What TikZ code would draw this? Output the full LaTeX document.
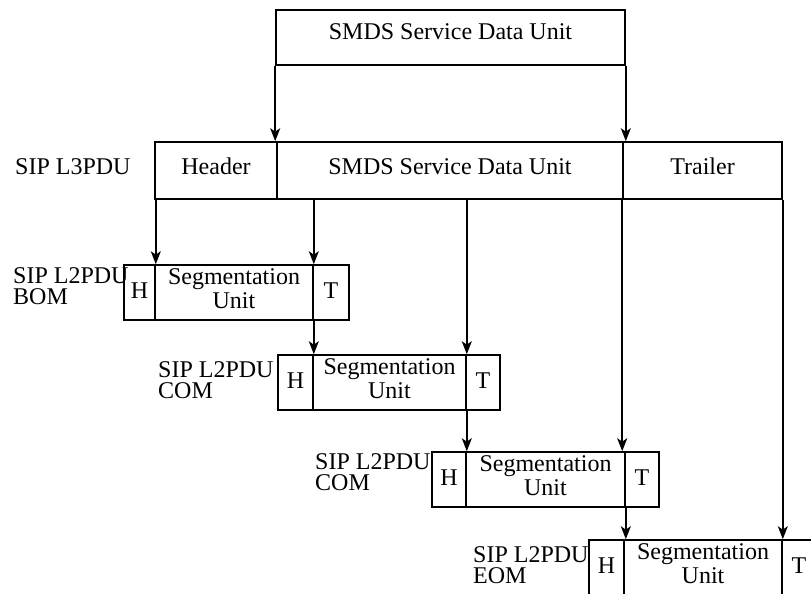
\documentclass[tikz,border=0pt]{standalone}
\usepackage{fontspec}
\setmainfont{Liberation Serif}
\usetikzlibrary{arrows.meta}
\begin{document}
\begin{tikzpicture}[x=1pt,y=-1pt,
  cell/.style={draw, line width=1.6pt, inner sep=0pt, minimum height=55pt,
    font=\fontsize{24}{24}\selectfont, align=center, text depth=7pt},
  ht/.style={cell, text depth=4pt},
  lab/.style={font=\fontsize{24}{21}\selectfont, align=left, inner sep=0pt, anchor=west},
  arr/.style={-{Stealth[length=13pt,width=10pt,inset=3.5pt]}, line width=1.6pt}]
\useasboundingbox (0,0) rectangle (811,594);
\clip (0,0) rectangle (811,594);
% top
\node[cell, minimum width=349pt, text depth=11pt] (top) at (450.5,37.5) {SMDS Service Data Unit};
% L3PDU
\node[lab] (l3lab) at (15,166.5) {SIP L3PDU};
\node[cell, minimum width=122pt, minimum height=57pt, text depth=8pt] (hdr) at (216,170.5) {Header};
\node[cell, minimum width=346pt, minimum height=57pt, text depth=8pt] (sdu) at (450,170.5) {SMDS Service Data Unit};
\node[cell, minimum width=159pt, minimum height=57pt, text depth=8pt] (trl) at (702.5,170.5) {Trailer};
% BOM
\node[lab] (bomlab) at (13,286) {SIP L2PDU\\BOM};
\node[ht, minimum width=31pt] (bomH) at (139.5,292.5) {H};
\node[cell, minimum width=158pt] (bomS) at (234,292.5) {Segmentation\\Unit};
\node[ht, minimum width=36pt] (bomT) at (331,292.5) {T};
% COM1
\node[lab] (c1lab) at (158,380) {SIP L2PDU\\COM};
\node[ht, minimum width=35pt] (c1H) at (295.5,382.5) {H};
\node[cell, minimum width=153pt] (c1S) at (389.5,382.5) {Segmentation\\Unit};
\node[ht, minimum width=34pt] (c1T) at (483,382.5) {T};
% COM2
\node[lab] (c2lab) at (315,472.5) {SIP L2PDU\\COM};
\node[ht, minimum width=34pt] (c2H) at (449,479.5) {H};
\node[cell, minimum width=159pt] (c2S) at (545.5,479.5) {Segmentation\\Unit};
\node[ht, minimum width=34pt] (c2T) at (642,479.5) {T};
% EOM
\node[lab] (eolab) at (473,565.5) {SIP L2PDU\\EOM};
\node[ht, minimum width=35pt] (eoH) at (606.5,567.5) {H};
\node[cell, minimum width=158pt] (eoS) at (703,567.5) {Segmentation\\Unit};
\node[ht, minimum width=34pt] (eoT) at (799,567.5) {T};
% arrows
\draw[arr] (top.south west) -- (top.south west |- sdu.north);
\draw[arr] (top.south east) -- (top.south east |- trl.north);
\draw[arr] (bomH.north east |- hdr.south) -- (bomH.north east);
\draw[arr] (bomS.north east |- sdu.south) -- (bomS.north east);
\draw[arr] (bomS.south east) -- (bomS.south east |- c1H.north);
\draw[arr] (c1S.north east |- sdu.south) -- (c1S.north east);
\draw[arr] (c1S.south east) -- (c1S.south east |- c2H.north);
\draw[arr] (trl.south west) -- (trl.south west |- c2S.north);
\draw[arr] (c2S.south east) -- (c2S.south east |- eoH.north);
\draw[arr] (trl.south east) -- (trl.south east |- eoS.north);
\end{tikzpicture}
\end{document}
